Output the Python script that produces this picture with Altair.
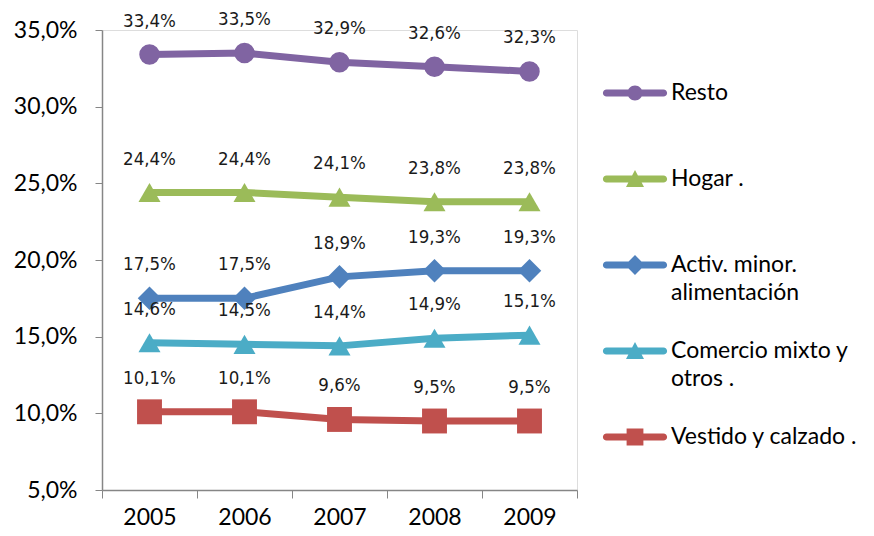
import altair as alt
import pandas as pd

years = ["2005", "2006", "2007", "2008", "2009"]
series = ["Resto", "Hogar .", "Activ. minor. alimentación",
          "Comercio mixto y otros .", "Vestido y calzado ."]
resto = [33.4, 33.5, 32.9, 32.6, 32.3]
hogar = [24.4, 24.4, 24.1, 23.8, 23.8]
activ = [17.5, 17.5, 18.9, 19.3, 19.3]
comercio = [14.6, 14.5, 14.4, 14.9, 15.1]
vestido = [10.1, 10.1, 9.6, 9.5, 9.5]
y_ticks = [5, 10, 15, 20, 25, 30, 35]

colors = ["#8064A2", "#9BBB59", "#4F81BD", "#4BACC6", "#C0504D"]
markers = ["circle", "triangle-up", "diamond", "triangle-up", "square"]
shape_kinds = ["circle", "triangle-up", "diamond", "square"]
shape_sizes = [420, 620, 560, 700]

LINE = "M-0.95,-0.12L0.95,-0.12A0.12,0.12 0 0 1 0.95,0.12L-0.95,0.12A0.12,0.12 0 0 1 -0.95,-0.12Z"
legend_paths = [
    LINE + "M-0.25,0A0.25,0.25 0 1 1 0.25,0A0.25,0.25 0 1 1 -0.25,0Z",
    LINE + "M0,-0.3L0.3,0.27L-0.3,0.27Z",
    LINE + "M0,-0.33L0.33,0L0,0.33L-0.33,0Z",
    LINE + "M0,-0.3L0.3,0.27L-0.3,0.27Z",
    LINE + "M-0.28,-0.28L0.28,-0.28L0.28,0.28L-0.28,0.28Z",
]

rows = []
for name, vals, mk in zip(series, [resto, hogar, activ, comercio, vestido], markers):
    for yr, v in zip(years, vals):
        rows.append({"year": yr, "series": name, "value": v,
                     "label": f"{v:.1f}".replace(".", ",") + "%", "marker": mk})
df = pd.DataFrame(rows)

LBL_FONT = "Lato"
x_enc = alt.X("year:O", scale=alt.Scale(type="band", paddingInner=0, paddingOuter=0),
              axis=alt.Axis(title=None, labelAngle=0, tickBand="extent", tickSize=8,
                            domainColor="#868686", tickColor="#868686", domainWidth=1.5,
                            labelFont=LBL_FONT, labelFontSize=23, labelColor="black",
                            labelPadding=8))
y_enc = alt.Y("value:Q", scale=alt.Scale(domain=[5, 35]),
              axis=alt.Axis(title=None, values=y_ticks, grid=False, tickSize=7,
                            domainColor="#868686", tickColor="#868686", domainWidth=1.5,
                            labelFont=LBL_FONT, labelFontSize=23, labelColor="black",
                            labelPadding=18,
                            labelExpr="replace(format(datum.value, '.1f'), '.', ',') + '%'"))
color_scale = alt.Scale(domain=series, range=colors)

base = alt.Chart(df).encode(x=x_enc, y=y_enc)

label_expr = ("datum.label == 'Activ. minor. alimentación' ? ['Activ. minor.', 'alimentación'] : "
              "datum.label == 'Comercio mixto y otros .' ? ['Comercio mixto y', 'otros .'] : "
              "[datum.label, '']")

legend_props = dict(title=None, labelExpr=label_expr, symbolSize=3600, symbolOpacity=1,
                    symbolStrokeWidth=0, orient="none", legendX=503, legendY=33,
                    labelFont=LBL_FONT, labelFontSize=23, labelColor="black",
                    labelOffset=6, rowPadding=16, padding=0, labelLimit=300)

# invisible layer that only carries the legend (line + marker symbols)
legend_layer = base.mark_point(filled=True, opacity=0, size=1).encode(
    color=alt.Color("series:N", scale=color_scale, legend=alt.Legend(**legend_props)),
    shape=alt.Shape("series:N", scale=alt.Scale(domain=series, range=legend_paths),
                    legend=alt.Legend(**legend_props)))

lines = base.mark_line(strokeWidth=7).encode(
    color=alt.Color("series:N", scale=color_scale, legend=None),
    detail="series:N")

points = base.mark_point(filled=True, opacity=1).encode(
    color=alt.Color("series:N", scale=color_scale, legend=None),
    shape=alt.Shape("marker:N", scale=None),
    size=alt.Size("marker:N", scale=alt.Scale(domain=shape_kinds, range=shape_sizes), legend=None))

labels = base.mark_text(dy=-34, font="Liberation Sans Narrow, Arial Narrow, DejaVu Sans Condensed, sans-serif",
                        fontSize=18.5, color="#1a1a1a").encode(text="label:N")

chart = alt.layer(legend_layer, lines, points, labels).properties(
    width=475, height=460,
    autosize=alt.AutoSizeParams(type="none"),
    padding={"left": 94, "top": 22, "right": 289, "bottom": 38},
).configure_view(fill="#FFFFD9", strokeWidth=0).configure(
    style={"guide-label": {"lineHeight": 28}}
)

chart.save("out.html", embed_options={"renderer": "svg", "actions": False})
